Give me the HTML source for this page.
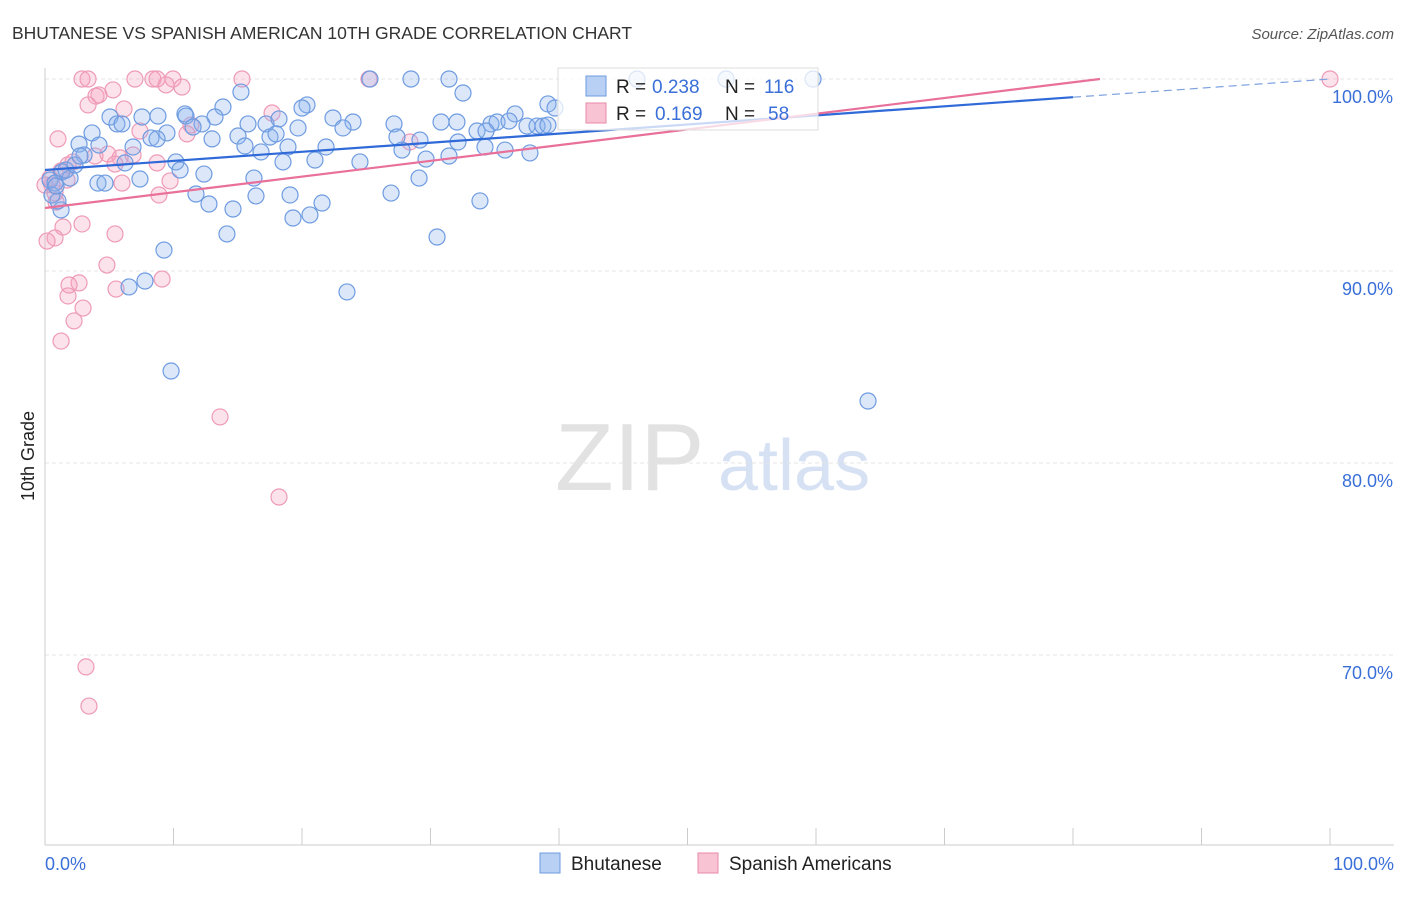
<!DOCTYPE html>
<html><head><meta charset="utf-8"><style>
body{margin:0;background:#fff;font-family:"Liberation Sans",sans-serif;}
svg text{font-family:"Liberation Sans",sans-serif;}
</style></head><body>
<svg id="chart" width="1406" height="892">
<text x="12" y="39" font-size="17.5" fill="#333">BHUTANESE VS SPANISH AMERICAN 10TH GRADE CORRELATION CHART</text>
<text x="1394" y="39" font-size="15" fill="#555" text-anchor="end" font-style="italic">Source: ZipAtlas.com</text>
<text x="555" y="490" font-size="96" fill="#e2e2e2" font-family="Liberation Serif">ZIP</text>
<text x="718" y="490" font-size="72" fill="#d6e2f4">atlas</text>
<text transform="translate(34,456) rotate(-90)" font-size="18" fill="#222" text-anchor="middle">10th Grade</text>
<g id="grid"></g><g id="pts"></g><g id="lines"></g>
<rect x="558" y="68" width="260" height="62" fill="rgba(255,255,255,0.75)" stroke="#ddd"/>
<rect x="586" y="76" width="20" height="20" fill="#b8d0f4" stroke="#6e9be0"/>
<rect x="586" y="103" width="20" height="20" fill="#f8c4d4" stroke="#e88aa8"/>
<g font-size="19" fill="#222">
<text x="616" y="93">R =</text>
<text x="652" y="93" fill="#3a6fd8">0.238</text>
<text x="725" y="93">N =</text>
<text x="764" y="93" fill="#3a6fd8">116</text>
<text x="616" y="120">R =</text>
<text x="655" y="120" fill="#3a6fd8">0.169</text>
<text x="725" y="120">N =</text>
<text x="768" y="120" fill="#3a6fd8">58</text>
</g>
<rect x="540" y="853" width="20" height="20" fill="#b8d0f4" stroke="#6e9be0"/>
<text x="571" y="870" font-size="19" fill="#222">Bhutanese</text>
<rect x="698" y="853" width="20" height="20" fill="#f8c4d4" stroke="#e88aa8"/>
<text x="729" y="870" font-size="19" fill="#222">Spanish Americans</text>
</svg>
<script>
const yTicks=[100,90,80,70];
const yTickLabels=["100.0%","90.0%","80.0%","70.0%"];
const xTickLabels=["0.0%","100.0%"];
const bluePx=[[370,79],[411,79],[449,79],[637,79],[726,79],[813,79],[597,85],[463,93],[241,92],[223,107],[307,105],[302,108],[548,104],[555,108],[515,114],[110,117],[142,117],[158,116],[185,114],[186,116],[215,117],[333,118],[353,122],[394,124],[441,122],[457,122],[491,124],[497,122],[509,121],[527,126],[537,126],[543,126],[548,125],[117,124],[122,124],[248,124],[266,124],[279,119],[298,128],[343,128],[202,124],[193,127],[92,133],[167,133],[151,138],[157,139],[212,139],[238,136],[270,137],[276,134],[397,137],[420,140],[458,142],[477,131],[486,131],[79,144],[99,145],[133,147],[245,146],[261,152],[288,147],[326,147],[402,150],[449,156],[485,147],[505,150],[530,153],[84,155],[125,163],[176,162],[283,162],[315,160],[360,162],[426,159],[62,172],[180,170],[204,174],[140,179],[254,178],[98,183],[105,183],[419,178],[196,194],[256,196],[290,195],[391,193],[209,204],[233,209],[322,203],[480,201],[293,218],[310,215],[227,234],[437,237],[164,250],[61,210],[58,201],[145,281],[129,287],[347,292],[171,371],[868,401],[50,180],[55,183],[52,195],[56,186],[70,178],[66,170],[75,165],[80,156]];
const pinkPx=[[82,79],[88,79],[135,79],[153,79],[157,79],[173,79],[242,79],[369,79],[1330,79],[166,85],[182,87],[113,90],[99,95],[96,96],[88,105],[124,109],[272,113],[191,125],[140,131],[187,134],[58,139],[410,142],[95,156],[108,154],[120,158],[73,162],[68,165],[133,155],[115,164],[157,163],[61,171],[50,178],[67,180],[52,185],[122,183],[170,181],[159,195],[56,202],[82,224],[63,227],[55,238],[47,241],[115,234],[107,265],[79,283],[69,285],[116,289],[162,279],[68,296],[83,308],[74,321],[61,341],[220,417],[279,497],[86,667],[89,706],[45,185],[55,193]];
const blueX=bluePx.map(p=>+((p[0]-45)/12.85).toFixed(2)), blueY=bluePx.map(p=>+(100-(p[1]-79)/19.2).toFixed(2));
const pinkX=pinkPx.map(p=>+((p[0]-45)/12.85).toFixed(2)), pinkY=pinkPx.map(p=>+(100-(p[1]-79)/19.2).toFixed(2));
const blueTrend=[95.26,100.0];
const pinkTrend=[93.28,100.0,82.1];
const NS="http://www.w3.org/2000/svg";
const xs=v=>45+v*12.85, ys=v=>79+(100-v)*19.2;
function mk(t,a,parent){const e=document.createElementNS(NS,t);for(const k in a)e.setAttribute(k,a[k]);document.getElementById(parent).appendChild(e);return e;}
yTicks.forEach((t,i)=>{
 const l=mk('line',{x1:45,x2:1394,y1:ys(t),y2:ys(t),stroke:'#e4e4e4','stroke-dasharray':'4,3'},'grid');
 
 
 const tx=mk('text',{x:1393,y:ys(t)+24,'font-size':18,fill:'#3a6fd8','text-anchor':'end'},'grid');tx.textContent=yTickLabels[i];
 
 
});
const ax=mk('line',{x1:45,x2:1394,y1:845,y2:845,stroke:'#ccc'},'grid');


const ay=mk('line',{x1:45,x2:45,y1:68,y2:845,stroke:'#ccc'},'grid');


for(let i=0;i<=10;i++){const t=mk('line',{x1:xs(i*10),x2:xs(i*10),y1:828,y2:845,stroke:'#ccc'},'grid');
 
 }
[[0,'start',45],[1,'end',1394]].forEach(([i,a,x])=>{const t=mk('text',{x:x,y:870,'font-size':18,fill:'#3a6fd8','text-anchor':a},'grid');t.textContent=xTickLabels[i];
 
 });
pinkX.forEach((x,i)=>{const c=mk('circle',{cx:xs(x),cy:ys(pinkY[i]),r:8,fill:'rgba(244,160,190,0.3)',stroke:'#ee9ab6','stroke-width':1.2},'pts');
 
 });
blueX.forEach((x,i)=>{const c=mk('circle',{cx:xs(x),cy:ys(blueY[i]),r:8,fill:'rgba(140,180,240,0.3)',stroke:'#6e9be0','stroke-width':1.2},'pts');
 
 });
const bAt=x=>blueTrend[0]+(blueTrend[1]-blueTrend[0])*x/100;
const b1=mk('line',{x1:xs(0),y1:ys(bAt(0)),x2:xs(80),y2:ys(bAt(80)),stroke:'#2f6ad8','stroke-width':2.2},'lines');


const b2=mk('line',{x1:xs(80),y1:ys(bAt(80)),x2:xs(100),y2:ys(bAt(100)),stroke:'#7ea2e0','stroke-width':1.2,'stroke-dasharray':'8,5'},'lines');


const p1=mk('line',{x1:xs(0),y1:ys(pinkTrend[0]),x2:xs(pinkTrend[2]),y2:ys(pinkTrend[1]),stroke:'#e8709a','stroke-width':2.2},'lines');


</script>
</body></html>
